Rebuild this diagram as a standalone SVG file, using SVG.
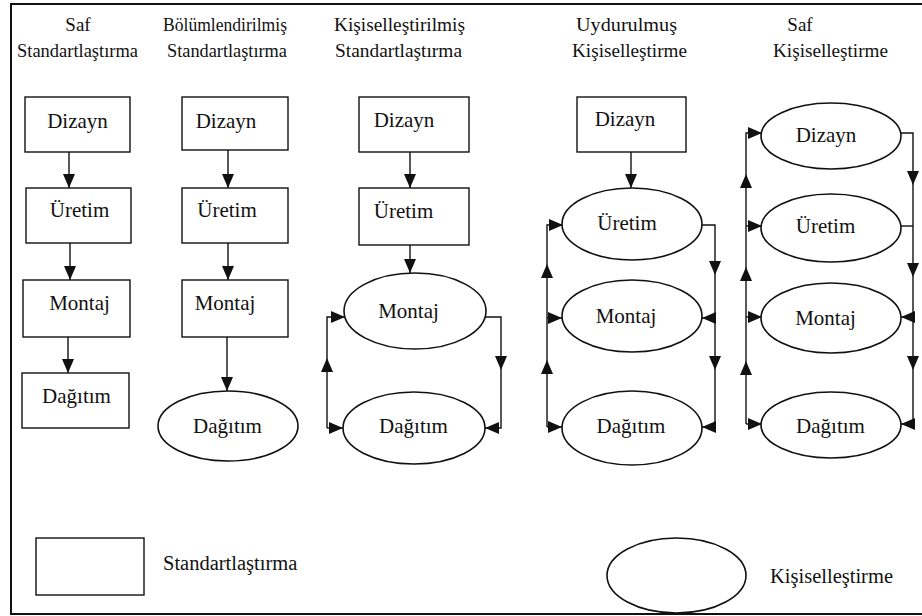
<svg xmlns="http://www.w3.org/2000/svg" width="922" height="616" viewBox="0 0 922 616" font-family="'Liberation Serif', 'DejaVu Serif', Times, serif">
  <style>
    text { font-family: 'Liberation Serif', 'DejaVu Serif', Times, serif; fill: #111; }
    .title { font-size: 19px; text-anchor: middle; }
    .lbl { font-size: 21px; text-anchor: middle; }
    .leg { font-size: 20.5px; }
    .box, .oval { fill: #fff; stroke: #111; stroke-width: 1.4; }
    .oval { stroke-width: 1.6; }
    .conn path { fill: none; stroke: #111; stroke-width: 1.4; }
    .conn .a { marker-end: url(#arr); }
    .frame { fill: none; stroke: #111; stroke-width: 2; }
  </style>
  <defs>
    <marker id="arr" viewBox="0 0 14 12" refX="14" refY="6" markerWidth="14" markerHeight="12" markerUnits="userSpaceOnUse" orient="auto">
      <path d="M0,0 L14,6 L0,12 Z" fill="#111"/>
    </marker>
  </defs>

  <rect width="922" height="616" fill="#fff"/>
  <path class="frame" d="M922,4 H11 V614 H922"/>

  <!-- column headings -->
  <g id="titles">
    <text class="title" x="78" y="31">Saf</text>
    <text class="title" x="77.5" y="57" textLength="121" lengthAdjust="spacingAndGlyphs">Standartlaştırma</text>
    <text class="title" x="225" y="31" textLength="124" lengthAdjust="spacingAndGlyphs">Bölümlendirilmiş</text>
    <text class="title" x="227" y="57" textLength="120" lengthAdjust="spacingAndGlyphs">Standartlaştırma</text>
    <text class="title" x="399.5" y="31" textLength="131" lengthAdjust="spacingAndGlyphs">Kişiselleştirilmiş</text>
    <text class="title" x="398.5" y="57" textLength="127" lengthAdjust="spacingAndGlyphs">Standartlaştırma</text>
    <text class="title" x="626.5" y="31" textLength="101" lengthAdjust="spacingAndGlyphs">Uydurulmuş</text>
    <text class="title" x="629.5" y="57" textLength="115" lengthAdjust="spacingAndGlyphs">Kişiselleştirme</text>
    <text class="title" x="800" y="31">Saf</text>
    <text class="title" x="830.5" y="57" textLength="115" lengthAdjust="spacingAndGlyphs">Kişiselleştirme</text>
  </g>

  <!-- connectors -->
  <g id="connectors" class="conn">
    <!-- Saf Standartlaştırma -->
    <path class="a" d="M69,152 V188"/>
    <path class="a" d="M70,243 V280"/>
    <path class="a" d="M68,337 V373"/>
    <!-- Bölümlendirilmiş Standartlaştırma -->
    <path class="a" d="M228,150 V188"/>
    <path class="a" d="M228,243 V280"/>
    <path class="a" d="M227,337 V391"/>
    <!-- Kişiselleştirilmiş Standartlaştırma -->
    <path class="a" d="M410,152 V188"/>
    <path class="a" d="M410,245 V273"/>
    <path class="a" d="M327,428 V358"/>
    <path class="a" d="M327,358 V317 H345"/>
    <path class="a" d="M327,428 H343"/>
    <path class="a" d="M485,317 H501 V370"/>
    <path class="a" d="M501,370 V428 H485"/>
    <!-- Uydurulmuş Kişiselleştirme -->
    <path class="a" d="M631,152 V188"/>
    <path class="a" d="M547,427 V360"/>
    <path class="a" d="M547,360 V264"/>
    <path class="a" d="M547,264 V225 H563"/>
    <path class="a" d="M547,318 H562"/>
    <path class="a" d="M547,427 H562"/>
    <path class="a" d="M701,225 H715 V275"/>
    <path class="a" d="M715,275 V370"/>
    <path class="a" d="M715,318 H702"/>
    <path class="a" d="M715,370 V427 H702"/>
    <!-- Saf Kişiselleştirme -->
    <path class="a" d="M746,424 V361"/>
    <path class="a" d="M746,361 V267"/>
    <path class="a" d="M746,267 V174"/>
    <path class="a" d="M746,174 V133 H762"/>
    <path class="a" d="M746,226 H762"/>
    <path class="a" d="M746,317 H762"/>
    <path class="a" d="M746,424 H762"/>
    <path class="a" d="M900,133 H913 V185"/>
    <path d="M901,226 H913"/>
    <path class="a" d="M913,185 V277"/>
    <path class="a" d="M913,277 V370"/>
    <path class="a" d="M913,317 H901"/>
    <path class="a" d="M913,370 V424 H901"/>
  </g>

  <!-- Saf Standartlaştırma -->
  <g id="c1-dizayn"><rect class="box" x="25" y="97" width="105" height="55"/><text class="lbl" x="77.5" y="128">Dizayn</text></g>
  <g id="c1-uretim"><rect class="box" x="26" y="188" width="105" height="55"/><text class="lbl" x="79.5" y="217">Üretim</text></g>
  <g id="c1-montaj"><rect class="box" x="23" y="280" width="107" height="57"/><text class="lbl" x="79.5" y="310">Montaj</text></g>
  <g id="c1-dagitim"><rect class="box" x="22" y="373" width="107" height="55"/><text class="lbl" x="76.5" y="403">Dağıtım</text></g>

  <!-- Bölümlendirilmiş Standartlaştırma -->
  <g id="c2-dizayn"><rect class="box" x="182" y="97" width="106" height="53"/><text class="lbl" x="226" y="128">Dizayn</text></g>
  <g id="c2-uretim"><rect class="box" x="182" y="188" width="106" height="55"/><text class="lbl" x="227" y="217">Üretim</text></g>
  <g id="c2-montaj"><rect class="box" x="182" y="280" width="106" height="57"/><text class="lbl" x="225" y="310">Montaj</text></g>
  <g id="c2-dagitim"><ellipse class="oval" cx="228" cy="426" rx="70" ry="35"/><text class="lbl" x="227.5" y="433">Dağıtım</text></g>

  <!-- Kişiselleştirilmiş Standartlaştırma -->
  <g id="c3-dizayn"><rect class="box" x="359" y="97" width="110" height="55"/><text class="lbl" x="404" y="127">Dizayn</text></g>
  <g id="c3-uretim"><rect class="box" x="359" y="188" width="110" height="57"/><text class="lbl" x="403.5" y="218">Üretim</text></g>
  <g id="c3-montaj"><ellipse class="oval" cx="415" cy="311" rx="71" ry="38"/><text class="lbl" x="408.5" y="318">Montaj</text></g>
  <g id="c3-dagitim"><ellipse class="oval" cx="414" cy="428" rx="71" ry="36"/><text class="lbl" x="413.5" y="433">Dağıtım</text></g>

  <!-- Uydurulmuş Kişiselleştirme -->
  <g id="c4-dizayn"><rect class="box" x="577" y="97" width="109" height="55"/><text class="lbl" x="625" y="126">Dizayn</text></g>
  <g id="c4-uretim"><ellipse class="oval" cx="632" cy="224" rx="70" ry="36"/><text class="lbl" x="627" y="230">Üretim</text></g>
  <g id="c4-montaj"><ellipse class="oval" cx="632" cy="316" rx="70" ry="36"/><text class="lbl" x="626" y="323">Montaj</text></g>
  <g id="c4-dagitim"><ellipse class="oval" cx="632" cy="428" rx="70" ry="37"/><text class="lbl" x="631" y="433">Dağıtım</text></g>

  <!-- Saf Kişiselleştirme -->
  <g id="c5-dizayn"><ellipse class="oval" cx="831" cy="136" rx="70" ry="33"/><text class="lbl" x="826" y="142">Dizayn</text></g>
  <g id="c5-uretim"><ellipse class="oval" cx="831" cy="228" rx="70" ry="34"/><text class="lbl" x="825.5" y="233">Üretim</text></g>
  <g id="c5-montaj"><ellipse class="oval" cx="831" cy="318" rx="70" ry="35"/><text class="lbl" x="825.5" y="325">Montaj</text></g>
  <g id="c5-dagitim"><ellipse class="oval" cx="831" cy="425" rx="70" ry="33"/><text class="lbl" x="830.5" y="433">Dağıtım</text></g>

  <!-- legend -->
  <g id="legend-standart"><rect class="box" x="36" y="538" width="108" height="57"/><text class="leg" x="163" y="570">Standartlaştırma</text></g>
  <g id="legend-kisisel"><ellipse class="oval" cx="676.5" cy="575.5" rx="69.5" ry="37.5"/><text class="leg" x="770" y="583">Kişiselleştirme</text></g>
</svg>
